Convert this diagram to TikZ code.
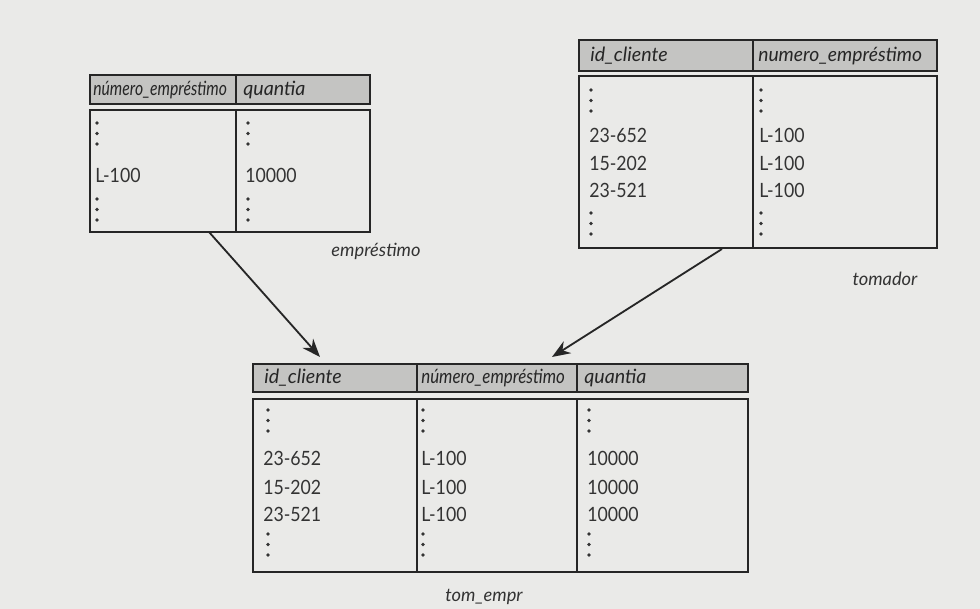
\documentclass[tikz,border=0pt]{standalone}
\usepackage{fontspec}
\setmainfont{Lato}
\usetikzlibrary{arrows.meta}

\definecolor{paper}{HTML}{EAEAE8}
\definecolor{headfill}{HTML}{C4C4C2}
\definecolor{ink}{HTML}{262626}
\definecolor{txt}{HTML}{333333}

\tikzset{
  tabline/.style={draw=ink, line width=1.7pt},
  headbox/.style={tabline, fill=headfill},
  bodybox/.style={tabline, fill=paper},
  headtxt/.style={anchor=west, inner sep=0pt, text=ink, font=\itshape\fontsize{14}{16}\selectfont},
  celltxt/.style={anchor=west, inner sep=0pt, text=txt, font=\fontsize{14}{16}\selectfont},
  reltxt/.style={inner sep=0pt, text=txt, font=\itshape\fontsize{13}{15}\selectfont},
  link/.style={draw=ink, line width=1.3pt, -{Stealth[length=13pt,width=10pt]}},
  vd/.pic={
    \fill[txt] (0,0) circle (1.8);
    \fill[txt] (0,10.5) circle (1.8);
    \fill[txt] (0,21) circle (1.8);
  }
}
\newcommand{\cellnum}[1]{\scalebox{0.9}[1]{#1}}

\begin{document}
\begin{tikzpicture}[x=0.025cm, y=-0.025cm]
  \fill[paper] (0,0) rectangle (980,609);
  \useasboundingbox (0,0) rectangle (980,609);

  % ---------- empréstimo ----------
  \draw[headbox] (90,75) rectangle (236,104);
  \draw[headbox] (236,75) rectangle (370,104);
  \draw[bodybox] (90,110) rectangle (370,232);
  \draw[tabline] (236,110) -- (236,232);
  \node[headtxt] (e-h1) at (93,90) {\scalebox{0.8}[1]{número\_empréstimo}};
  \node[headtxt] (e-h2) at (243,90) {quantia};
  \pic at (97,123) {vd};
  \pic at (248,123) {vd};
  \node[celltxt] (e-r1a) at (95,175) {\cellnum{L-100}};
  \node[celltxt] (e-r1b) at (245,175) {\cellnum{10000}};
  \pic at (97,199) {vd};
  \pic at (248,199) {vd};
  \node[reltxt] (e-name) at (376,251) {empréstimo};
  \coordinate (e-out) at (209,232);

  % ---------- tomador ----------
  \draw[headbox] (579,40) rectangle (753,71);
  \draw[headbox] (753,40) rectangle (937,71);
  \draw[bodybox] (579,76) rectangle (937,248);
  \draw[tabline] (753,76) -- (753,248);
  \node[headtxt] (t-h1) at (590,56) {id\_cliente};
  \node[headtxt] (t-h2) at (758,56) {\scalebox{0.98}[1]{numero\_empréstimo}};
  \pic at (591,90) {vd};
  \pic at (761,90) {vd};
  \node[celltxt] (t-r1a) at (589,135) {\cellnum{23-652}};
  \node[celltxt] (t-r2a) at (589,163) {\cellnum{15-202}};
  \node[celltxt] (t-r3a) at (589,190) {\cellnum{23-521}};
  \node[celltxt] (t-r1b) at (759,135) {\cellnum{L-100}};
  \node[celltxt] (t-r2b) at (759,163) {\cellnum{L-100}};
  \node[celltxt] (t-r3b) at (759,190) {\cellnum{L-100}};
  \pic at (591,213) {vd};
  \pic at (761,213) {vd};
  \node[reltxt] (t-name) at (885,279) {tomador};
  \coordinate (t-out) at (722,249);

  % ---------- tom_empr ----------
  \draw[headbox] (253,364) rectangle (417,392);
  \draw[headbox] (417,364) rectangle (577,392);
  \draw[headbox] (577,364) rectangle (748,392);
  \draw[bodybox] (253,399) rectangle (748,572);
  \draw[tabline] (417,399) -- (417,572);
  \draw[tabline] (577,399) -- (577,572);
  \node[headtxt] (j-h1) at (264,378) {id\_cliente};
  \node[headtxt] (j-h2) at (421,378) {\scalebox{0.86}[1]{número\_empréstimo}};
  \node[headtxt] (j-h3) at (584,378) {quantia};
  \pic at (268,410) {vd};
  \pic at (423,410) {vd};
  \pic at (589,410) {vd};
  \node[celltxt] (j-r1a) at (263,458) {\cellnum{23-652}};
  \node[celltxt] (j-r2a) at (263,487) {\cellnum{15-202}};
  \node[celltxt] (j-r3a) at (263,514) {\cellnum{23-521}};
  \node[celltxt] (j-r1b) at (421,458) {\cellnum{L-100}};
  \node[celltxt] (j-r2b) at (421,487) {\cellnum{L-100}};
  \node[celltxt] (j-r3b) at (421,514) {\cellnum{L-100}};
  \node[celltxt] (j-r1c) at (587,458) {\cellnum{10000}};
  \node[celltxt] (j-r2c) at (587,487) {\cellnum{10000}};
  \node[celltxt] (j-r3c) at (587,514) {\cellnum{10000}};
  \pic at (268,534) {vd};
  \pic at (423,534) {vd};
  \pic at (589,534) {vd};
  \node[reltxt] (j-name) at (484,597) {tom\_empr};
  \coordinate (j-in1) at (320,357);
  \coordinate (j-in2) at (552,357);

  % ---------- connectors ----------
  \draw[link] (e-out) -- (j-in1);
  \draw[link] (t-out) -- (j-in2);
\end{tikzpicture}
\end{document}
